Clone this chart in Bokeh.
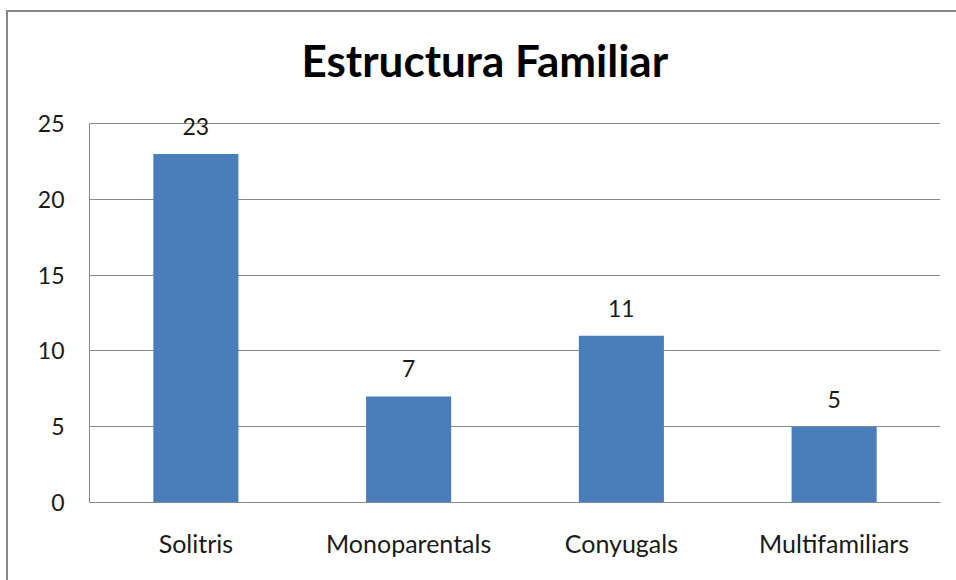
from bokeh.plotting import figure
from bokeh.models import ColumnDataSource, LabelSet, FixedTicker
from bokeh.core.properties import value
from bokeh.embed import file_html
from bokeh.resources import INLINE

categories = ["Solitris", "Monoparentals", "Conyugals", "Multifamiliars"]
values = [23, 7, 11, 5]
y_ticks = [0, 5, 10, 15, 20, 25]

src = ColumnDataSource(dict(cat=categories, val=values, lbl=[str(v) for v in values]))

p = figure(x_range=categories, y_range=(0, 26), width=956, height=580,
           output_backend="svg", toolbar_location=None,
           min_border_left=89, min_border_right=16, min_border_top=108, min_border_bottom=78)

p.title.text = "Estructura Familiar"
p.title.text_font = "Lato"
p.title.text_font_style = "bold"
p.title.text_font_size = "44px"
p.title.text_color = "#000000"
p.title.align = "left"
p.title.offset = 212
p.title.standoff = 46

p.vbar(x="cat", top="val", width=0.4, source=src, fill_color="#4a7ebb", line_color=None)

labels = LabelSet(x="cat", y="val", text="lbl", source=src, text_align="center",
                  text_baseline="bottom", y_offset=19, text_font=value("Lato"),
                  text_font_size=value("23px"), text_color="#1a1a1a")
p.add_layout(labels)

p.outline_line_color = None
p.xgrid.grid_line_color = None
p.ygrid.grid_line_color = "#8a8a8a"
p.ygrid.grid_line_width = 1
p.yaxis.ticker = FixedTicker(ticks=y_ticks)
p.yaxis.bounds = (0, 25)

for ax in (p.xaxis, p.yaxis):
    ax.axis_line_color = "#8a8a8a"
    ax.axis_line_width = 1
    ax.major_tick_line_color = None
    ax.minor_tick_line_color = None
    ax.major_label_text_font = "Lato"
    ax.major_label_text_color = "#1a1a1a"

p.yaxis.major_label_text_font_size = "23px"
p.yaxis.major_label_standoff = 19
p.xaxis.major_label_text_font_size = "25px"
p.xaxis.major_label_standoff = 19

# outer chart border (left and top edges visible as in the reference)
p.border_fill_color = None
p.background_fill_color = "white"
p.styles = {
    "background-color": "white",
    "background-image": "linear-gradient(#878787, #878787), linear-gradient(#878787, #878787)",
    "background-size": "2px 600px, 960px 2px",
    "background-position": "6px 10px, 6px 10px",
    "background-repeat": "no-repeat",
}

open("out.html", "w").write(file_html(p, INLINE))
